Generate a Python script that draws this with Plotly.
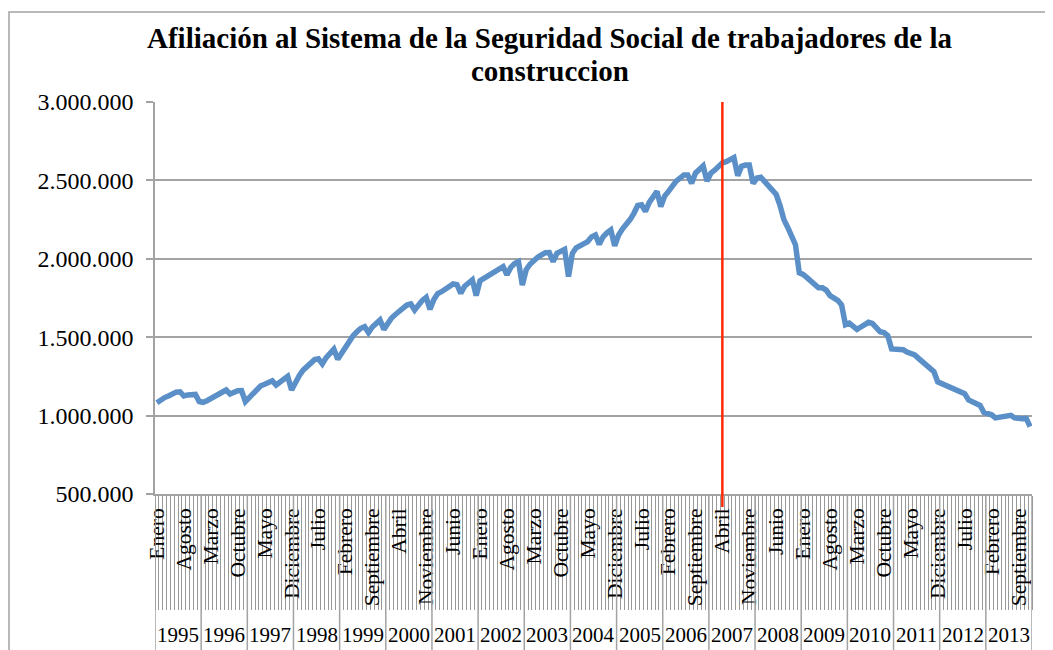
import plotly.graph_objects as go

meses = ["Enero", "Febrero", "Marzo", "Abril", "Mayo", "Junio", "Julio",
         "Agosto", "Septiembre", "Octubre", "Noviembre", "Diciembre"]
anios = list(range(1995, 2014))

af_1995 = [1082000, 1100000, 1115000, 1125000, 1140000, 1150000, 1152000, 1125000, 1132000, 1138000, 1135000, 1090000]
af_1996 = [1085000, 1095000, 1108000, 1120000, 1135000, 1150000, 1163000, 1138000, 1150000, 1159000, 1160000, 1089000]
af_1997 = [1115000, 1140000, 1165000, 1190000, 1200000, 1212000, 1222000, 1195000, 1215000, 1235000, 1250000, 1163000]
af_1998 = [1215000, 1255000, 1290000, 1310000, 1335000, 1357000, 1362000, 1330000, 1370000, 1400000, 1424000, 1360000]
af_1999 = [1400000, 1440000, 1480000, 1510000, 1535000, 1557000, 1567000, 1529000, 1565000, 1590000, 1610000, 1550000]
af_2000 = [1590000, 1622000, 1645000, 1660000, 1685000, 1705000, 1712000, 1673000, 1710000, 1735000, 1754000, 1678000]
af_2001 = [1740000, 1778000, 1790000, 1810000, 1830000, 1840000, 1835000, 1780000, 1825000, 1850000, 1865000, 1765000]
af_2002 = [1860000, 1875000, 1890000, 1905000, 1925000, 1945000, 1950000, 1898000, 1945000, 1970000, 1982000, 1833000]
af_2003 = [1930000, 1965000, 1993000, 2010000, 2025000, 2039000, 2040000, 1982000, 2035000, 2050000, 2060000, 1887000]
af_2004 = [2034000, 2070000, 2085000, 2095000, 2110000, 2140000, 2152000, 2092000, 2140000, 2165000, 2184000, 2082000]
af_2005 = [2150000, 2190000, 2216000, 2250000, 2290000, 2340000, 2344000, 2303000, 2360000, 2400000, 2430000, 2333000]
af_2006 = [2400000, 2430000, 2470000, 2495000, 2515000, 2535000, 2535000, 2481000, 2546000, 2570000, 2592000, 2495000]
af_2007 = [2546000, 2565000, 2588000, 2612000, 2620000, 2635000, 2645000, 2530000, 2590000, 2598000, 2598000, 2480000]
af_2008 = [2515000, 2520000, 2490000, 2470000, 2440000, 2410000, 2340000, 2250000, 2200000, 2150000, 2090000, 1910000]
af_2009 = [1900000, 1880000, 1860000, 1835000, 1815000, 1815000, 1800000, 1765000, 1750000, 1735000, 1705000, 1580000]
af_2010 = [1590000, 1570000, 1550000, 1565000, 1585000, 1595000, 1588000, 1560000, 1535000, 1530000, 1510000, 1425000]
af_2011 = [1423000, 1423000, 1420000, 1405000, 1395000, 1387000, 1365000, 1345000, 1315000, 1300000, 1280000, 1215000]
af_2012 = [1205000, 1190000, 1180000, 1168000, 1162000, 1155000, 1140000, 1100000, 1090000, 1075000, 1065000, 1020000]
af_2013 = [1012000, 1005000, 985000, 990000, 998000, 1003000, 1002000, 985000, 978000, 980000, 982000, 930000]

serie = (af_1995 + af_1996 + af_1997 + af_1998 + af_1999 + af_2000 + af_2001 +
         af_2002 + af_2003 + af_2004 + af_2005 + af_2006 + af_2007 + af_2008 +
         af_2009 + af_2010 + af_2011 + af_2012 + af_2013)

etiqueta_mes = [m for a in anios for m in meses]
etiqueta_anio = [a for a in anios for m in meses]
pos = list(range(len(serie)))

marca_mes, marca_anio = "Abril", 2007
pos_marca = [p for p in pos if etiqueta_mes[p] == marca_mes and etiqueta_anio[p] == marca_anio][0]

paso_etiqueta = 7
tick_vals = pos[::paso_etiqueta]
tick_text = etiqueta_mes[::paso_etiqueta]

FONT = "Liberation Serif, Times New Roman, serif"
GRIS = "#a3a3a3"

# the page body has an 8px margin; size the figure so it fits the 1053x650 window
OFF = 8
W, H = 1053 - OFF, 650 - OFF
L, T = 155 - OFF, 102 - OFF
PW, PH = 877, 392
R, B = W - L - PW, H - T - PH

fig = go.Figure()
fig.add_trace(go.Scatter(
    x=pos, y=serie, mode="lines",
    line=dict(color="#5B8FC8", width=5.5),
    showlegend=False, hoverinfo="skip",
))

shapes = []
for k in range(len(anios) + 1):
    xb = k * 12 - 0.5
    shapes.append(dict(type="line", xref="x", yref="paper", x0=xb, x1=xb,
                       y0=-0.45, y1=0, line=dict(color=GRIS, width=1.5), layer="above"))
shapes.append(dict(type="line", xref="x", yref="paper", x0=pos_marca, x1=pos_marca,
                   y0=-0.033, y1=1, line=dict(color="#FF2A00", width=2.5), layer="above"))
shapes.append(dict(type="rect", xref="paper", yref="paper", x0=-(L - 1) / PW, x1=1.2,
                   y0=-0.6, y1=1 + (T - 4) / PH, line=dict(color=GRIS, width=1.5), layer="above"))

annotations = []
for i, a in enumerate(anios):
    annotations.append(dict(x=i * 12 + 5.5, xref="x", y=-(627 - OFF - T - PH + OFF) / PH, yref="paper",
                            text=str(a), showarrow=False, yanchor="middle",
                            font=dict(family=FONT, size=21, color="black")))
titulo = ["Afiliación al Sistema de la Seguridad Social de trabajadores de la", "construccion"]
for txt, yc in zip(titulo, [38, 71]):
    annotations.append(dict(
        x=(550 - OFF - L) / PW, xref="paper", y=1 + (T - (yc - OFF)) / PH, yref="paper",
        xanchor="center", yanchor="middle", text="<b>" + txt + "</b>",
        showarrow=False, font=dict(family=FONT, size=29, color="black")))

fig.update_layout(
    width=W, height=H,
    margin=dict(l=L, r=R, t=T, b=B, pad=0, autoexpand=False),
    paper_bgcolor="white", plot_bgcolor="white",
    separators=",.",
    shapes=shapes, annotations=annotations,
    xaxis=dict(
        range=[-0.5, len(serie) - 0.5],
        tickmode="array", tickvals=tick_vals, ticktext=tick_text,
        tickangle=-90, ticks="", showgrid=False, zeroline=False,
        showline=True, linecolor=GRIS, linewidth=1.5, ticklabelstandoff=4,
        tickfont=dict(family=FONT, size=21.5, color="black"),
        minor=dict(tick0=-0.5, dtick=1, ticks="outside", ticklen=114,
                   tickcolor="#999999", tickwidth=1.2, showgrid=False),
    ),
    yaxis=dict(
        range=[500000, 3000000], dtick=500000, tick0=500000,
        tickformat=",d", showgrid=True, gridcolor=GRIS, gridwidth=1.5,
        zeroline=False, showline=True, linecolor=GRIS, linewidth=1.5,
        ticks="outside", ticklen=7, tickcolor=GRIS, tickwidth=1.5,
        ticklabelstandoff=8,
        tickfont=dict(family=FONT, size=24, color="black"),
    ),
)

fig.write_html("out.html")
